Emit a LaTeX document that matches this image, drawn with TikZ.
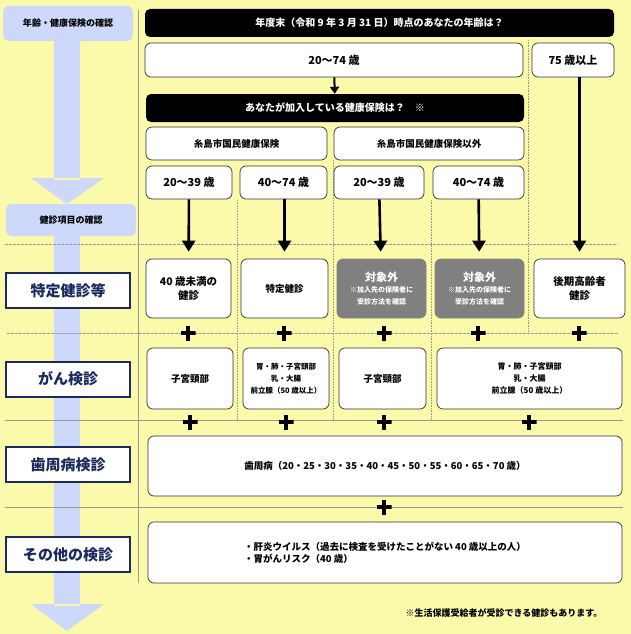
\documentclass[tikz,border=0pt]{standalone}
\usepackage{fontspec}
\setmainfont{Noto Sans CJK JP}[BoldFont={Noto Sans CJK JP Black}]
\usetikzlibrary{arrows.meta}
\definecolor{bg}{HTML}{FAFAAA}
\definecolor{flow}{HTML}{CDD8FB}
\definecolor{navy}{HTML}{1B2A5E}
\definecolor{grey}{HTML}{808080}
\tikzset{
  box/.style={draw=black!80, fill=white, rounded corners=6pt, line width=0.7pt, align=center, inner sep=1pt, font=\bfseries\fontsize{9.5}{12}\selectfont},
  bar/.style={fill=black, rounded corners=5pt, text=white, font=\bfseries\fontsize{10}{12}\selectfont},
  off/.style={box, fill=grey, draw=grey, text=white},
  stage/.style={fill=flow, rounded corners=6pt, font=\bfseries\fontsize{9}{11}\selectfont},
  item/.style={draw=navy, line width=2pt, fill=white, text=navy, minimum width=124pt, minimum height=35pt, font=\bfseries\fontsize{15}{17}\selectfont},
  go/.style={-{Triangle[width=13pt,length=11pt]}, line width=2.6pt},
  plus/.style={minimum size=15pt, inner sep=0pt, path picture={
      \draw[line width=3.5pt] (path picture bounding box.north) -- (path picture bounding box.south)
        (path picture bounding box.west) -- (path picture bounding box.east);}},
  rule/.style={draw=black!40, line width=0.6pt}
}
\newcommand\outside{\fontsize{11}{14}\selectfont 対象外\\[-1pt]\fontsize{7}{9}\selectfont ※加入先の保険者に\\\fontsize{7}{9}\selectfont 受診方法を確認}
\begin{document}
\begin{tikzpicture}[x=1pt, y=-1pt]
  \useasboundingbox[fill=bg] (0,0) rectangle (631,634);
  % left flow column
  \fill[flow] (54,30) rectangle (80,180) (31,178) -- (104,178) -- (67,204) -- cycle;
  \fill[flow] (54,230) rectangle (80,606) (31,604) -- (104,604) -- (67,631) -- cycle;
  \node[stage, minimum width=130pt, minimum height=35pt] (chk1) at (68,23.5) {年齢・健康保険の確認};
  \node[stage, minimum width=130pt, minimum height=32pt] (chk2) at (71,220) {健診項目の確認};
  % grid lines
  \draw[rule, dash pattern=on 3pt off 1pt] (5,244) -- (618,244);
  \draw[rule, dash pattern=on 3pt off 1pt] (7,333) -- (618,333);
  \draw[rule] (5,420) -- (623,420);
  \draw[rule] (5,507) -- (623,507);
  \draw[rule] (138,10) -- (138,583);
  \foreach \x/\ya/\yb in {237/200/420, 333/160/420, 431/200/420, 528/40/333}
    \draw[rule, densely dotted] (\x,\ya) -- (\x,\yb);
  % questions
  \node[bar, minimum width=469pt, minimum height=28pt] (q1) at (379.5,23) {年度末（令和 9 年 3 月 31 日）時点のあなたの年齢は？};
  \node[box, minimum width=378pt, minimum height=34pt, font=\fontsize{11}{13}\selectfont\bfseries] (age) at (334,60) {20～74 歳};
  \node[box, minimum width=82pt, minimum height=34pt, font=\fontsize{11}{13}\selectfont\bfseries] (old) at (573,60) {75 歳以上};
  \node[bar, minimum width=378pt, minimum height=28pt] (q2) at (335,108) {あなたが加入している健康保険は？　※};
  \node[box, minimum width=181pt, minimum height=33pt] (kok) at (236.5,143.5) {糸島市国民健康保険};
  \node[box, minimum width=190pt, minimum height=33pt] (oth) at (429,143.5) {糸島市国民健康保険以外};
  \node[box, minimum width=86pt, minimum height=33pt, font=\fontsize{11}{13}\selectfont\bfseries] (k1) at (189,182.5) {20～39 歳};
  \node[box, minimum width=87pt, minimum height=33pt, font=\fontsize{11}{13}\selectfont\bfseries] (k2) at (283.5,182.5) {40～74 歳};
  \node[box, minimum width=90pt, minimum height=33pt, font=\fontsize{11}{13}\selectfont\bfseries] (o1) at (379,182.5) {20～39 歳};
  \node[box, minimum width=91pt, minimum height=33pt, font=\fontsize{11}{13}\selectfont\bfseries] (o2) at (478.5,182.5) {40～74 歳};
  % health checks
  \node[box, minimum width=85pt, minimum height=59pt, font=\fontsize{10.5}{14}\selectfont\bfseries] (t1) at (188.5,288.5) {40 歳未満の\\健診};
  \node[box, minimum width=87pt, minimum height=59pt] (t2) at (284.5,288.5) {特定健診};
  \node[off, minimum width=89pt, minimum height=59pt] (t3) at (381.5,288.5) {\outside};
  \node[off, minimum width=89pt, minimum height=59pt] (t4) at (479.5,288.5) {\outside};
  \node[box, minimum width=91pt, minimum height=59pt, font=\fontsize{10.5}{14}\selectfont\bfseries] (t5) at (579.5,288.5) {後期高齢者\\健診};
  \node[box, minimum width=86pt, minimum height=61pt] (c1) at (190,378.5) {子宮頸部};
  \node[box, minimum width=86pt, minimum height=61pt, font=\fontsize{7.5}{12}\selectfont\bfseries] (c2) at (286,378.5) {胃・肺・子宮頸部\\乳・大腸\\前立腺（50 歳以上）};
  \node[box, minimum width=87pt, minimum height=61pt] (c3) at (382.5,378.5) {子宮頸部};
  \node[box, minimum width=185pt, minimum height=61pt, font=\fontsize{8}{12}\selectfont\bfseries] (c4) at (529.5,378.5) {胃・肺・子宮頸部\\乳・大腸\\前立腺（50 歳以上）};
  \node[box, minimum width=474pt, minimum height=60pt] (perio) at (385,466) {歯周病（20・25・30・35・40・45・50・55・60・65・70 歳）};
  \node[box, minimum width=474pt, minimum height=61pt, align=left] (misc) at (385,552.5) {・肝炎ウイルス（過去に検査を受けたことがない 40 歳以上の人）\\・胃がんリスク（40 歳）};
  % row labels
  \node[item] (lab1) at (68,290.5) {特定健診等};
  \node[item] (lab2) at (68,379) {がん検診};
  \node[item] (lab3) at (68,464.5) {歯周病検診};
  \node[item] (lab4) at (68,554.5) {その他の検診};
  % arrows
  \draw[-{Triangle[width=9pt,length=7pt]}, line width=2pt] (age) -- (q2);
  \draw[go, shorten >=7pt] (k1) -- (t1);
  \draw[go, shorten >=7pt] (k2.south -| t2) -- (t2);
  \draw[go, shorten >=7pt] (o1) -- (t3);
  \draw[go, shorten >=7pt] (o2) -- (t4);
  \draw[go, shorten >=7pt] (old.south -| t5) -- (t5);
  % plus marks
  \foreach \x [count=\i] in {188,284,384,478,579}
    \node[plus] (pa\i) at (\x,333) {};
  \foreach \x [count=\i] in {190,286,384,529}
    \node[plus] (pb\i) at (\x,422) {};
  \node[plus] (pc) at (384,507) {};
  \node[anchor=east, font=\bfseries\fontsize{9}{11}\selectfont] (note) at (606,613) {※生活保護受給者が受診できる健診もあります。};
\end{tikzpicture}
\end{document}
